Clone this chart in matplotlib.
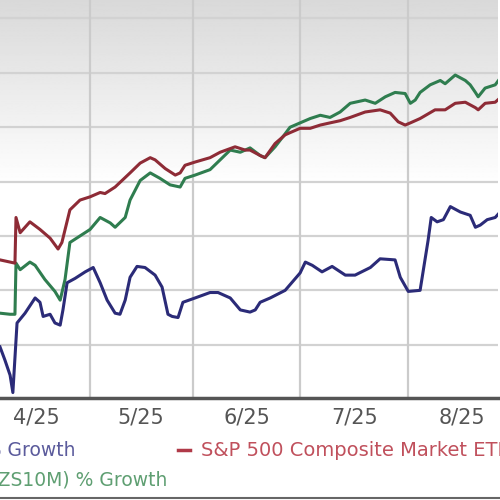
"""
price performance chart, cropped view (4/25 - 8/25)
"""
import numpy as np
import matplotlib
matplotlib.use("Agg")
import matplotlib.pyplot as plt
from matplotlib.lines import Line2D

# x = days since 4/1, y = % growth
sp500_days = [4.6, 7.5, 8.9, 9.2, 10.4, 13.2, 16.1, 19.0, 21.3, 22.4, 24.7, 27.6, 30.5, 33.4, 34.8,
              37.7, 42.0, 44.9, 47.8, 49.2, 52.1, 55.0, 56.4, 57.8, 60.7, 65.0, 67.9, 72.2, 75.1,
              76.5, 79.4, 80.8, 83.7, 86.6, 88.0, 90.9, 93.8, 96.7, 99.5, 102.4, 105.3, 109.6,
              113.9, 116.8, 119.1, 121.1, 122.6, 125.4, 129.7, 132.6, 135.5, 138.4, 141.3, 142.1,
              144.1, 147.0, 148.4]
sp500_vals = [-2.2, -2.4, -2.5, 1.7, 0.3, 1.3, 0.6, -0.2, -1.2, -0.6, 2.4, 3.3, 3.6, 4.0, 3.9,
              4.5, 5.8, 6.7, 7.2, 7.0, 6.2, 5.6, 5.8, 6.5, 6.8, 7.2, 7.7, 8.2, 7.9,
              7.9, 7.4, 7.2, 8.5, 9.3, 9.5, 9.9, 9.9, 10.2, 10.4, 10.6, 10.9, 11.4,
              11.6, 11.3, 10.5, 10.2, 10.4, 10.8, 11.6, 11.6, 12.2, 12.3, 11.8, 11.6,
              12.2, 12.3, 12.7]

sector_days = [4.6, 7.5, 8.9, 9.2, 10.4, 13.2, 14.7, 17.5, 20.4, 21.9, 23.3, 24.7, 27.6, 30.5,
               33.4, 36.3, 37.7, 40.6, 42.0, 44.9, 47.8, 50.6, 53.5, 56.4, 57.8, 60.7, 65.0,
               67.9, 70.8, 73.7, 76.5, 79.4, 80.8, 83.7, 86.6, 88.0, 90.9, 93.8, 96.7, 99.5,
               102.4, 105.3, 109.6, 112.5, 115.4, 118.2, 121.1, 122.6, 124.0, 125.4, 128.3,
               131.2, 132.6, 135.5, 138.4, 139.8, 141.3, 142.1, 144.1, 147.0, 148.4]
sector_vals = [-7.1, -7.2, -7.2, -2.5, -3.1, -2.4, -2.7, -4.0, -5.1, -5.9, -4.0, -0.6, 0.0, 0.6,
               1.7, 1.2, 0.8, 1.7, 3.3, 5.1, 5.8, 5.3, 4.7, 4.5, 5.3, 5.6, 6.1,
               7.0, 7.9, 7.7, 8.1, 7.4, 7.2, 8.2, 9.4, 10.0, 10.4, 10.8, 11.1, 10.9,
               11.4, 12.2, 12.5, 12.2, 12.8, 13.2, 13.1, 12.2, 12.5, 13.2, 13.9,
               14.3, 14.0, 14.8, 14.3, 13.9, 13.2, 12.8, 13.6, 13.9, 14.5]

price_days = [4.6, 6.0, 7.5, 8.3, 9.5, 11.8, 14.7, 16.1, 17.0, 19.0, 20.4, 21.9, 22.7, 23.9,
              26.2, 29.1, 31.4, 33.4, 35.4, 37.7, 39.1, 40.6, 42.0, 44.0, 46.3, 49.2, 51.2,
              52.9, 54.1, 55.8, 57.2, 60.7, 65.0, 67.3, 70.8, 73.7, 76.5, 78.0, 79.4, 82.3,
              86.6, 90.9, 92.4, 94.4, 97.2, 100.1, 103.9, 106.7, 111.1, 113.9, 118.2, 119.7,
              122.0, 125.4, 127.7, 128.6, 130.3, 132.1, 134.1, 137.0, 139.8, 141.3, 142.7,
              144.7, 147.0, 148.4]
price_vals = [-10.2, -11.4, -12.8, -14.4, -8.0, -7.1, -5.7, -6.1, -7.4, -7.2, -8.0, -8.2, -6.8, -4.3,
              -3.9, -3.3, -2.9, -4.3, -5.9, -7.1, -7.2, -5.9, -3.8, -2.8, -2.9, -3.6, -4.7,
              -7.2, -7.4, -7.5, -6.1, -5.7, -5.2, -5.2, -5.7, -6.8, -7.0, -6.8, -6.1, -5.7,
              -5.0, -3.4, -2.4, -2.7, -3.3, -2.8, -3.6, -3.6, -2.9, -2.1, -2.2, -3.8,
              -5.1, -5.0, -0.4, 1.7, 1.3, 1.5, 2.7, 2.2, 1.9, 0.8, 1.0,
              1.5, 1.7, 2.2]

month_starts = [30.5, 60, 91, 122]
label_pos = [15, 45, 75.5, 106.5, 137.5]
month_labels = ["4/25", "5/25", "6/25", "7/25", "8/25"]
y_grid = [-10, -5, 0, 5, 10, 15, 20]

fig = plt.figure(figsize=(5, 5), dpi=100)
ax = fig.add_axes([0, 0.204, 0.996, 0.796])
ax.set_xlim(4.6, 147.8)
ax.set_ylim(-14.9, 21.7)

# grey fade at the top of the plot area
grad = np.ones((400, 1))
t = np.linspace(0, 1, 400)
grad[:, 0] = np.clip(0.85 + 0.15 * (t / 0.47), 0.85, 1.0)
grad[t > 0.5, 0] = 1.0
ax.imshow(grad, cmap="gray", vmin=0, vmax=1, aspect="auto",
          extent=[0, 1, 0, 1], transform=ax.transAxes, zorder=0)

for yv in y_grid:
    ax.axhline(yv, color="#d2d2d2", lw=1.6, zorder=1)
for xv in month_starts:
    ax.axvline(xv, color="#cbcbcb", lw=1.6, zorder=1)

ax.plot(sector_days, sector_vals, color="#2f7d4f", lw=2.2, zorder=3)
ax.plot(sp500_days, sp500_vals, color="#8e2b36", lw=2.2, zorder=4)
ax.plot(price_days, price_vals, color="#2b2b78", lw=2.2, zorder=5)

for s in ["top", "left", "right"]:
    ax.spines[s].set_visible(False)
ax.spines["bottom"].set_color("#555555")
ax.spines["bottom"].set_linewidth(2.5)
ax.set_yticks([])
ax.set_xticks(label_pos)
ax.set_xticklabels(month_labels, fontsize=15, color="#555555")
ax.tick_params(axis="x", length=0, pad=7)

# legend (cut off by the crop, like the source image)
fig.text(75 / 500, 1 - 450 / 500, "Price % Growth", ha="right", va="center",
         fontsize=13.5, color="#5b5b9c")
fig.add_artist(Line2D([178 / 500, 190 / 500], [1 - 450 / 500] * 2, color="#b03a48", lw=2.5))
fig.text(201 / 500, 1 - 450 / 500, "S&P 500 Composite Market ETF", ha="left", va="center",
         fontsize=14, color="#c0505c")
fig.text(167 / 500, 1 - 480 / 500, "Sector (ZS10M) % Growth", ha="right", va="center",
         fontsize=13.5, color="#5f9f72")

fig.add_artist(Line2D([0, 1], [0.004, 0.004], color="#666666", lw=1.5))

fig.savefig("out.png", dpi=100)
